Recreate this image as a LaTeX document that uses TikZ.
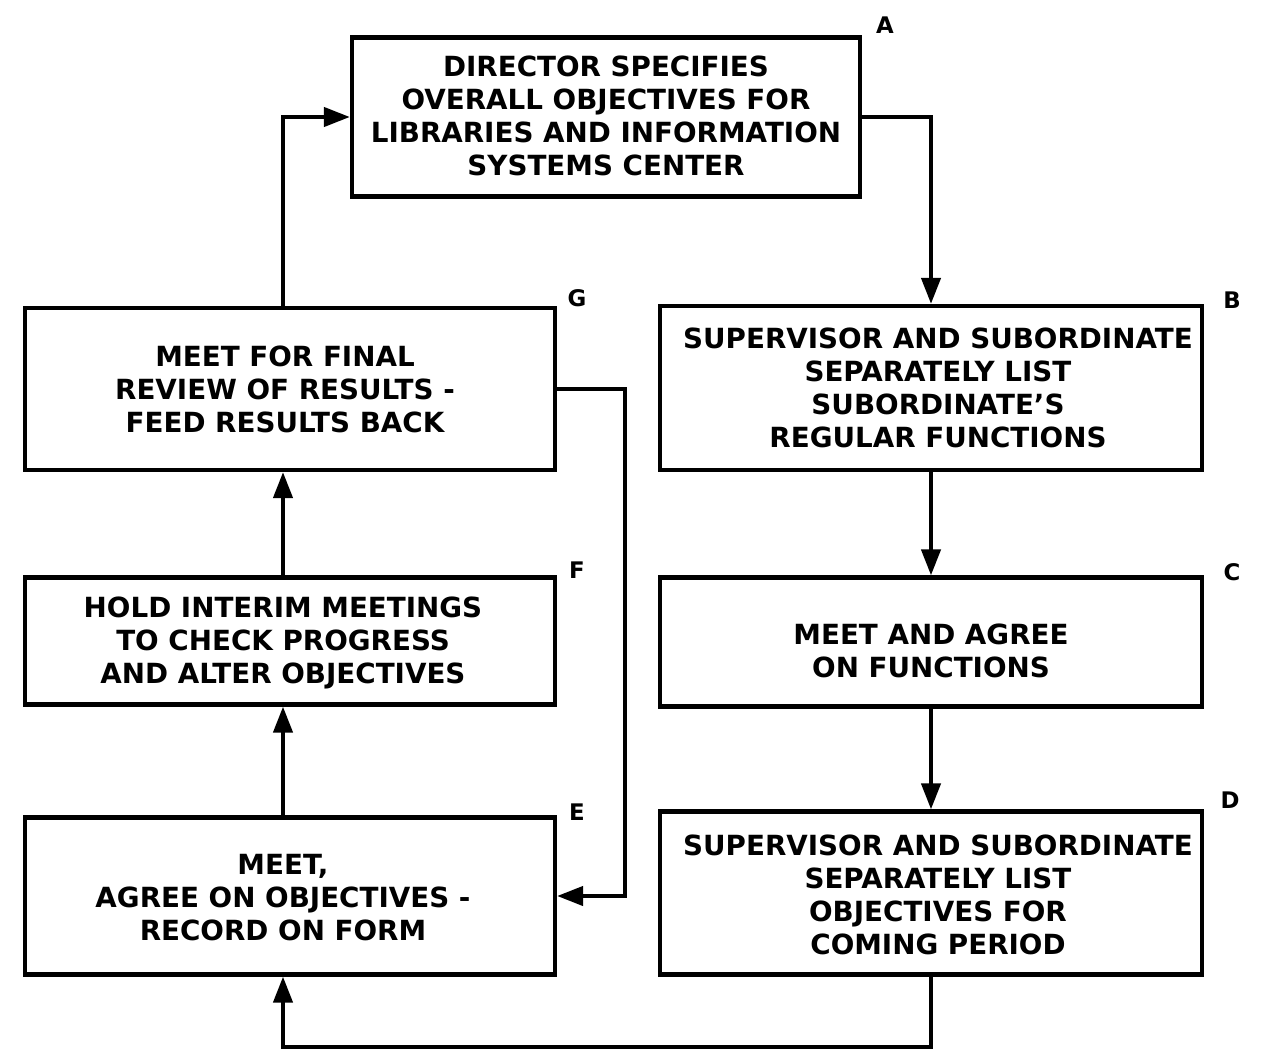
\documentclass[tikz,border=0pt]{standalone}
\usepackage{fontspec}
\setmainfont{DejaVu Sans}
\usetikzlibrary{arrows.meta}
\begin{document}
\begin{tikzpicture}[x=0.02cm,y=-0.02cm,
  flowbox/.style={draw,line width=2.4pt,inner sep=0pt},
  boxtext/.style={align=center,font=\bfseries\fontsize{15.8}{18.8}\selectfont},
  tag/.style={font=\bfseries\fontsize{13}{16}\selectfont},
  conn/.style={line width=2.4pt,-{Triangle[length=0.52cm,width=0.38cm]}}]
\useasboundingbox (0,0) rectangle (1275,1051);
% boxes
\node[flowbox,minimum width=508*0.02cm,minimum height=159*0.02cm] (A) at (606,117) {};
\node[flowbox,minimum width=542*0.02cm,minimum height=164*0.02cm] (B) at (931,388) {};
\node[flowbox,minimum width=542*0.02cm,minimum height=129*0.02cm] (C) at (931,642) {};
\node[flowbox,minimum width=542*0.02cm,minimum height=163*0.02cm] (D) at (931,893) {};
\node[flowbox,minimum width=530*0.02cm,minimum height=162*0.02cm] (G) at (290,389) {};
\node[flowbox,minimum width=530*0.02cm,minimum height=127*0.02cm] (F) at (290,641) {};
\node[flowbox,minimum width=530*0.02cm,minimum height=157*0.02cm] (E) at (290,896) {};
% texts
\node[boxtext] (tA) at (606,116) {DIRECTOR SPECIFIES\\OVERALL OBJECTIVES FOR\\LIBRARIES AND INFORMATION\\SYSTEMS CENTER};
\node[boxtext] (tB) at (938,388) {SUPERVISOR AND SUBORDINATE\\SEPARATELY LIST\\SUBORDINATE'S\\REGULAR FUNCTIONS};
\node[boxtext] (tC) at (931,651) {MEET AND AGREE\\ON FUNCTIONS};
\node[boxtext] (tD) at (938,895) {SUPERVISOR AND SUBORDINATE\\SEPARATELY LIST\\OBJECTIVES FOR\\COMING PERIOD};
\node[boxtext] (tG) at (285,389) {MEET FOR FINAL\\REVIEW OF RESULTS -\\FEED RESULTS BACK};
\node[boxtext] (tF) at (283,643) {HOLD INTERIM MEETINGS\\TO CHECK PROGRESS\\AND ALTER OBJECTIVES};
\node[boxtext] (tE) at (283,898) {MEET,\\AGREE ON OBJECTIVES -\\RECORD ON FORM};
% tags
\node[tag] (lA) at (885,25) {A};
\node[tag] (lB) at (1232,300) {B};
\node[tag] (lC) at (1232,572) {C};
\node[tag] (lD) at (1230,800) {D};
\node[tag] (lE) at (577,812) {E};
\node[tag] (lF) at (577,570) {F};
\node[tag] (lG) at (577,298) {G};
% connectors
\draw[conn] (A.east) -| (B.north);
\draw[conn] (B.south) -- (C.north);
\draw[conn] (C.south) -- (D.north);
\draw[conn] (D.south) -- (931,1047) -| (E.south -| 283,0);
\draw[conn] (E.north -| 283,0) -- (F.south -| 283,0);
\draw[conn] (F.north -| 283,0) -- (G.south -| 283,0);
\draw[conn] (G.north -| 283,0) |- (A.west);
\draw[conn] (G.east) -- (625,389) |- (E.east);
\end{tikzpicture}
\end{document}
